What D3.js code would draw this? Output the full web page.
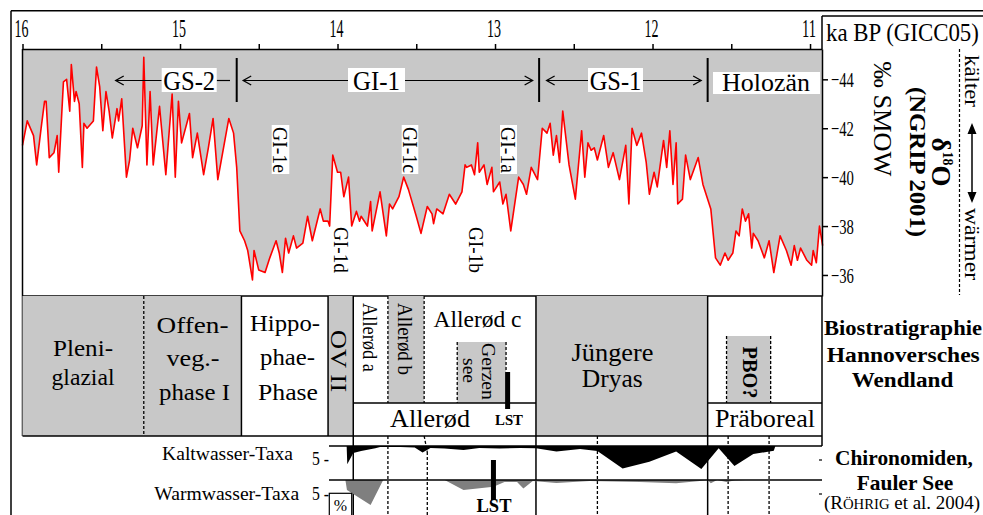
<!DOCTYPE html>
<html>
<head>
<meta charset="utf-8">
<script src="https://cdn.jsdelivr.net/npm/d3@7"></script>
<style>
  body { margin: 0; background: #fff; }
  svg, svg text { font-family: "Liberation Serif", Tinos, "Times New Roman", serif; }
</style>
</head>
<body>
<svg id="chart" width="983" height="515"></svg>
<script>
// ---- data ----
// NGRIP delta18O (permil SMOW) against age (ka BP, GICC05)
const ngripAge = [
  16.00,15.97,15.93,15.91,15.88,15.86,15.85,15.83,15.80,15.78,
  15.77,15.75,15.74,15.72,15.70,15.69,15.67,15.66,15.64,15.62,
  15.61,15.59,15.55,15.53,15.51,15.49,15.47,15.45,15.43,15.40,
  15.39,15.37,15.34,15.32,15.30,15.27,15.24,15.23,15.21,15.19,
  15.17,15.13,15.09,15.05,15.03,15.01,14.99,14.94,14.92,14.89,
  14.85,14.82,14.79,14.76,14.69,14.66,14.64,14.62,14.59,14.57,
  14.54,14.53,14.50,14.46,14.43,14.39,14.37,14.35,14.33,14.31,
  14.28,14.26,14.22,14.19,14.16,14.11,14.09,14.06,14.05,14.03,
  14.00,13.98,13.96,13.93,13.91,13.88,13.86,13.85,13.81,13.79,
  13.78,13.73,13.69,13.67,13.65,13.61,13.58,13.55,13.50,13.47,
  13.43,13.40,13.39,13.37,13.33,13.29,13.25,13.21,13.19,13.18,
  13.15,13.13,13.11,13.10,13.07,13.05,13.02,13.01,12.97,12.95,
  12.93,12.90,12.85,12.82,12.80,12.77,12.73,12.70,12.67,12.65,
  12.63,12.61,12.59,12.57,12.53,12.49,12.45,12.43,12.41,12.39,
  12.37,12.35,12.31,12.28,12.25,12.21,12.17,12.15,12.13,12.10,
  12.07,12.04,12.02,11.99,11.97,11.93,11.91,11.89,11.87,11.85,
  11.84,11.81,11.79,11.76,11.71,11.68,11.63,11.60,11.57,11.54,
  11.52,11.49,11.47,11.45,11.43,11.41,11.39,11.37,11.36,11.33,
  11.29,11.26,11.23,11.19,11.15,11.12,11.10,11.08,11.06,11.02,
  10.99,10.98,10.96,10.94,10.92
];
const ngripD18O = [
  -41.3,-42.3,-41.7,-40.5,-42.1,-43.1,-43.1,-40.8,-41.0,-41.7,
  -40.2,-42.7,-43.9,-44.0,-42.7,-44.6,-43.1,-43.5,-43.0,-40.4,
  -42.2,-42.0,-42.3,-44.5,-43.7,-41.9,-43.5,-42.7,-41.6,-42.8,
  -42.3,-43.2,-40.0,-40.7,-42.0,-41.2,-42.1,-44.9,-40.5,-43.5,
  -40.5,-42.9,-40.1,-43.4,-40.0,-43.1,-41.4,-42.6,-40.8,-41.8,
  -40.1,-41.2,-42.4,-39.9,-42.4,-41.8,-40.4,-37.8,-37.4,-37.0,
  -35.8,-37.0,-36.2,-36.1,-36.7,-37.4,-36.9,-36.1,-37.5,-36.9,
  -37.6,-37.1,-37.3,-38.4,-37.4,-38.7,-38.2,-38.2,-38.0,-40.9,
  -40.2,-40.2,-39.2,-40.0,-38.0,-38.6,-38.2,-38.4,-38.0,-39.0,
  -37.8,-39.4,-37.6,-38.9,-38.7,-39.2,-40.0,-39.5,-38.4,-37.7,
  -38.8,-38.5,-38.1,-38.7,-38.5,-39.3,-38.9,-39.4,-40.5,-40.4,
  -40.5,-40.1,-41.4,-40.2,-40.5,-39.7,-40.4,-39.4,-39.8,-38.9,
  -39.3,-37.8,-40.0,-39.7,-39.3,-40.4,-39.9,-42.0,-41.8,-42.2,
  -40.9,-41.7,-40.6,-42.7,-40.5,-39.1,-41.9,-40.0,-41.4,-41.1,
  -41.2,-40.7,-41.7,-40.4,-41.0,-39.9,-41.3,-38.9,-42.0,-41.3,
  -41.8,-40.6,-39.3,-40.2,-39.6,-41.5,-40.4,-41.9,-39.7,-41.4,
  -38.9,-39.1,-40.9,-39.9,-40.8,-39.7,-38.7,-36.7,-36.4,-36.9,
  -36.6,-36.9,-37.8,-37.6,-38.7,-38.2,-38.5,-37.1,-37.7,-37.4,
  -36.7,-37.4,-36.1,-37.6,-37.0,-36.4,-37.2,-36.6,-37.1,-36.6,
  -36.4,-37.0,-36.5,-38.0,-37.2
];

// axis ticks
const ageTicks = [16, 15.5, 15, 14.5, 14, 13.5, 13, 12.5, 12, 11.5, 11];
const d18oTicks = [-44, -42, -40, -38, -36];

// Greenland stage boundaries (ka)
const stageBounds = [14.64, 12.72, 11.65];

// biostratigraphic zones (ka)
const zoneNames = ["Pleniglazial", "Offenveg.-phase I", "Hippophae-Phase", "OV II",
  "Allerød a", "Allerød b", "Allerød c", "Jüngere Dryas", "Präboreal"];
const zoneStart = [16.00, 15.23, 14.61, 14.06, 13.90, 13.68, 13.45, 12.74, 11.65];
const zoneEnd   = [15.23, 14.61, 14.06, 13.90, 13.68, 13.45, 12.74, 11.65, 10.924];
const zoneGray  = [true, true, false, true, false, true, false, true, false];
const gerzensee = [13.24, 12.93];
const pbo = [11.53, 11.25];
const lstAge = [12.92, 13.01];

// chironomids, Fauler See (% of taxa)
const kaltAge = [13.942,13.938,13.90,13.85,13.76,13.73,13.60,13.51,13.46,13.41,13.32,13.20,13.10,12.97,
  12.84,12.74,12.61,12.46,12.35,12.19,12.02,11.85,11.69,11.58,11.48,11.36,11.23,11.22];
const kaltPct = [0,6.5,2.5,1.8,0.8,0.4,0.4,0.5,2.3,0.7,0.9,1.4,0.7,0.9,
  0.7,0.8,2.0,1.1,1.8,8.0,5.6,2.0,8.2,0.8,7.1,2.9,1.7,0];
const warmAge = [13.95,13.94,13.79,13.71,13.32,13.20,13.01,12.94,12.86,12.82,12.76,12.61,12.40,12.08,
  11.85,11.70,11.65,11.63,11.59,11.53,11.48,11.41];
const warmPct = [0,3.6,8.9,0,0,3.6,2.4,0.7,0.7,3.0,0.4,1.1,0.4,0.7,
  1.2,0.4,0,1.2,0,0.7,0.2,0];

// ---- layout ----
const svg = d3.select("#chart");
const GRAY = "#c8c8c8";
const x = d3.scaleLinear().domain([16, 10.924]).range([22.5, 822]);
const y = d3.scaleLinear().domain([-45.24, -35.14]).range([49, 296]);
const pct = d3.scaleLinear().domain([0, 10]).range([0, 28]);

const bioTop = 296, bioMid = 403, bioBot = 436;
const kaltBase = 446, warmBase = 480, figBot = 515;

function line(x1, y1, x2, y2, w, dash) {
  return svg.append("line").attr("x1", x1).attr("y1", y1).attr("x2", x2).attr("y2", y2)
    .attr("stroke", "#000").attr("stroke-width", w || 1.4)
    .attr("stroke-dasharray", dash ? "3,2" : null);
}
function rect(x0, y0, x1, y1, fill) {
  return svg.append("rect").attr("x", x0).attr("y", y0)
    .attr("width", x1 - x0).attr("height", y1 - y0).attr("fill", fill);
}
// the original uses a narrow serif face, so squeeze each label to its measured length
function squeeze(t, len) {
  const w = t.node().getComputedTextLength();
  return len && w ? ` scale(${(len / w).toFixed(3)},1)` : "";
}
function txt(o) {
  const t = svg.append("text")
    .attr("font-size", o.fs)
    .attr("font-weight", o.bold ? "bold" : null)
    .attr("text-anchor", o.anchor || "middle")
    .text(o.t);
  t.attr("transform", `translate(${o.x},${o.y})` + (o.rot ? " rotate(90)" : "") + squeeze(t, o.len));
  return t;
}

// ---- NGRIP curve ----
const ngrip = ngripAge.map((a, i) => ({ age: a, v: ngripD18O[i] }));
svg.append("path").datum(ngrip)
  .attr("fill", GRAY)
  .attr("d", d3.area().x(d => x(d.age)).y0(y.range()[0]).y1(d => y(d.v)));
svg.append("path").datum(ngrip)
  .attr("fill", "none").attr("stroke", "#ff0000").attr("stroke-width", 1.6)
  .attr("stroke-linejoin", "round")
  .attr("d", d3.line().x(d => x(d.age)).y(d => y(d.v)));

// stage bars, boxes and arrows
const arrowY = 80.5;
stageBounds.forEach(b => line(x(b), 58, x(b), 102, 2));
function arrow(x1, x2) { // head at x2
  line(x1, arrowY, x2, arrowY, 1.2);
  const s = x2 > x1 ? -1 : 1;
  svg.append("polyline")
    .attr("points", `${x2 + s * 8},${arrowY - 4.5} ${x2},${arrowY} ${x2 + s * 8},${arrowY + 4.5}`)
    .attr("fill", "none").attr("stroke", "#000").attr("stroke-width", 1.3);
}
arrow(161.7, 115.7);
line(216.7, arrowY, 230, arrowY, 1.2);
arrow(348, x(stageBounds[0]) + 6.5);
arrow(405, x(stageBounds[1]) - 6.5);
arrow(588, x(stageBounds[1]) + 7.5);
arrow(643, x(stageBounds[2]) - 6.5);

const stageLabels = [
  { t: "GS-2", x0: 161.7, x1: 216.7, len: 52 },
  { t: "GI-1", x0: 348, x1: 405, len: 47 },
  { t: "GS-1", x0: 588, x1: 643, len: 51.7 }
];
stageLabels.forEach(s => {
  rect(s.x0, 68, s.x1, 92, "#fff");
  txt({ t: s.t, x: (s.x0 + s.x1) / 2, y: 89.5, fs: 28, len: s.len });
});
rect(713, 72, 820, 94, "#fff");
txt({ t: "Holozän", x: 766, y: 91, fs: 26, len: 88 });

// GI-1 sub-events
[[271.7, 289.3], [401.7, 418.3], [500, 517]].forEach(b => rect(b[0], 125, b[1], 174, "#fff"));
[
  { t: "GI-1e", x: 273, y: 150 }, { t: "GI-1d", x: 333.5, y: 250 },
  { t: "GI-1c", x: 402.5, y: 150 }, { t: "GI-1b", x: 468.5, y: 250 },
  { t: "GI-1a", x: 501, y: 150 }
].forEach(o => txt(Object.assign({ fs: 22, rot: true, len: 46 }, o)));

// ---- axes ----
const gTop = svg.append("g").attr("transform", "translate(0,49)")
  .call(d3.axisTop(x).tickValues(ageTicks).tickSize(5).tickPadding(7).tickSizeOuter(0)
    .tickFormat(d => Number.isInteger(d) ? d : ""));
gTop.attr("font-family", null);
gTop.selectAll("path,line").attr("stroke", "#000").attr("stroke-width", 1.5);
gTop.selectAll("text").attr("font-size", 25).attr("fill", "#000")
  .filter(d => Number.isInteger(d))
  .each(function () {
    const t = d3.select(this);
    t.attr("transform", "translate(-1.5,0)" + squeeze(t, 14));
  });

const gRight = svg.append("g").attr("transform", "translate(822,0)")
  .call(d3.axisRight(y).tickValues(d18oTicks).tickSize(6).tickPadding(3).tickSizeOuter(0));
gRight.attr("font-family", null);
gRight.selectAll("path,line").attr("stroke", "#000").attr("stroke-width", 1.5);
gRight.selectAll("text").attr("font-size", 22).attr("fill", "#000")
  .each(function () {
    const t = d3.select(this);
    const tx = +t.attr("x");
    t.attr("x", 0).attr("transform", `translate(${tx},0)` + squeeze(t, 23));
  });

// ---- frame ----
line(11, 10.7, 11, figBot, 1.5);
line(11, 10.7, 983, 10.7, 1.5);
line(822, 16, 983, 16, 1.5);
line(822, 16, 822, 49, 1.5);
line(22.5, 49, 22.5, bioBot, 1.5);
line(22.5, bioTop, 822, bioTop, 1.5);
line(822, bioTop, 822, kaltBase, 1.5);
txt({ t: "ka BP (GICC05)", x: 826, y: 41, fs: 25, anchor: "start", len: 153 });

// right-hand labels for the isotope curve
txt({ t: "‰ SMOW", x: 874, y: 119, fs: 26, rot: true, len: 115 });
const dl = svg.append("text").attr("font-size", 27).attr("font-weight", "bold")
  .attr("text-anchor", "middle").attr("transform", "translate(932,162) rotate(90)");
dl.append("tspan").text("δ");
dl.append("tspan").attr("font-size", 14).attr("dy", -11).text("18");
dl.append("tspan").attr("dy", 11).text("O");
txt({ t: "(NGRIP 2001)", x: 910, y: 162, fs: 24, bold: true, rot: true, len: 150 });
line(959.5, 49, 959.5, 295, 1.2, true);
txt({ t: "kälter", x: 964.5, y: 81, fs: 20, rot: true, len: 52 });
txt({ t: "wärmer", x: 964.5, y: 244, fs: 20, rot: true, len: 72 });
line(972, 128, 972, 198, 1.5);
svg.append("path").attr("d", "M972,123 L967.5,134 L976.5,134 Z M972,203 L967.5,192 L976.5,192 Z");

// ---- biostratigraphy ----
zoneNames.forEach((n, i) => {
  if (!zoneGray[i]) return;
  const full = i < 4 || i === 7;
  rect(x(zoneStart[i]), bioTop, x(zoneEnd[i]), full ? bioBot : bioMid, GRAY);
});
rect(x(gerzensee[0]), 342, x(gerzensee[1]), bioMid, GRAY);
rect(x(pbo[0]), 336, x(pbo[1]), bioMid, GRAY);

// zone dividers
line(x(15.23), bioTop, x(15.23), bioBot, 1.3, true);
[14.61, 14.06].forEach(a => line(x(a), bioTop, x(a), bioBot, 1.5));
[13.90, 12.74, 11.65].forEach(a => line(x(a), bioTop, x(a), figBot, 1.5));
[13.68, 13.45].forEach(a => line(x(a), bioTop, x(a), bioMid, 1.3, true));
line(x(gerzensee[0]), 342, x(gerzensee[0]), bioMid, 1.3, true);
line(x(gerzensee[1]), 342, x(gerzensee[1]), 372, 1.3, true);
pbo.forEach(a => line(x(a), 336, x(a), bioMid, 1.3, true));
line(x(13.90), bioMid, x(12.74), bioMid, 1.5);
line(x(11.65), bioMid, 822, bioMid, 1.5);
line(22.5, bioBot, 822, bioBot, 1.5);
rect(x(lstAge[0]) - 2.5, 372, x(lstAge[0]) + 2.5, 409, "#000");

[
  { t: "Pleni-", x: 83, y: 356, fs: 24, len: 60 },
  { t: "glazial", x: 83, y: 385, fs: 24, len: 63 },
  { t: "Offen-", x: 192.5, y: 333, fs: 24, len: 72 },
  { t: "veg.-", x: 193, y: 366, fs: 24, len: 53 },
  { t: "phase I", x: 194.5, y: 400, fs: 24, len: 71 },
  { t: "Hippo-", x: 285, y: 331, fs: 24, len: 70 },
  { t: "phae-", x: 287.5, y: 365, fs: 24, len: 55 },
  { t: "Phase", x: 288, y: 400, fs: 24, len: 60 },
  { t: "OV II", x: 331, y: 361, fs: 24, rot: true, len: 62 },
  { t: "Allerød a", x: 362.5, y: 337.5, fs: 22, rot: true, len: 69 },
  { t: "Allerød b", x: 397.5, y: 339, fs: 22, rot: true, len: 72 },
  { t: "Allerød c", x: 477.5, y: 327, fs: 23, len: 88 },
  { t: "Gerzen", x: 481.5, y: 371.5, fs: 19, rot: true, len: 57 },
  { t: "see", x: 462.5, y: 370.5, fs: 19, rot: true, len: 25 },
  { t: "Allerød", x: 430, y: 427, fs: 26, len: 80 },
  { t: "LST", x: 509, y: 425, fs: 15, bold: true, len: 28 },
  { t: "Jüngere", x: 612.5, y: 361, fs: 25, len: 82 },
  { t: "Dryas", x: 612.3, y: 387, fs: 25, len: 61 },
  { t: "PBO?", x: 742.5, y: 372.5, fs: 20, bold: true, rot: true, len: 52 },
  { t: "Präboreal", x: 765, y: 427, fs: 26, len: 100 },
  { t: "Biostratigraphie", x: 903, y: 335, fs: 21, bold: true, len: 158 },
  { t: "Hannoversches", x: 903.3, y: 362, fs: 21, bold: true, len: 153 },
  { t: "Wendland", x: 902.5, y: 387, fs: 21, bold: true, len: 101.6 }
].forEach(txt);

// ---- chironomids ----
[13.68, 12.35, 11.52, 11.26].forEach(a => line(x(a), bioBot, x(a), figBot, 1.3, true));
line(x(13.45), bioBot, x(13.43), 452, 1.3, true);
line(x(13.43), 452, x(13.43), figBot, 1.3, true);

const kalt = kaltAge.map((a, i) => ({ age: a, p: kaltPct[i] }));
const warm = warmAge.map((a, i) => ({ age: a, p: warmPct[i] }));
svg.append("path").datum(kalt).attr("fill", "#000")
  .attr("d", d3.area().x(d => x(d.age)).y0(kaltBase).y1(d => kaltBase + pct(d.p)));
svg.append("path").datum(warm).attr("fill", "#7f7f7f")
  .attr("d", d3.area().x(d => x(d.age)).y0(warmBase).y1(d => warmBase + pct(d.p)));

line(329, kaltBase, 822, kaltBase, 1.5);
line(329, warmBase, 822, warmBase, 1.5);
[kaltBase, warmBase].forEach(b => line(819, b + pct(5), 822, b + pct(5), 1.2));
svg.append("rect").attr("x", 329.3).attr("y", 493.3).attr("width", 22.4).attr("height", 25)
  .attr("fill", "#fff").attr("stroke", "#000").attr("stroke-width", 1.2);
rect(x(lstAge[1]) - 2.5, 460, x(lstAge[1]) + 2.5, 500, "#000");

[
  { t: "Kaltwasser-Taxa", x: 227.5, y: 459.5, fs: 18, len: 131 },
  { t: "Warmwasser-Taxa", x: 226.7, y: 499.5, fs: 18, len: 145 },
  { t: "5 -", x: 329, y: 465, fs: 18, anchor: "end", len: 17 },
  { t: "5 -", x: 329, y: 500, fs: 18, anchor: "end", len: 17 },
  { t: "%", x: 340.5, y: 511, fs: 16 },
  { t: "LST", x: 494, y: 511.7, fs: 19, bold: true, len: 35 },
  { t: "Chironomiden,", x: 904, y: 465, fs: 21, bold: true, len: 138 },
  { t: "Fauler See", x: 905, y: 490, fs: 21, bold: true, len: 96.6 }
].forEach(txt);
const ref = svg.append("text").attr("font-size", 18).attr("text-anchor", "middle");
ref.append("tspan").text("(R");
ref.append("tspan").attr("font-size", 14).text("ÖHRIG");
ref.append("tspan").text(" et al. 2004)");
ref.attr("transform", "translate(902,508.5)" + squeeze(ref, 156));
</script>
</body>
</html>
